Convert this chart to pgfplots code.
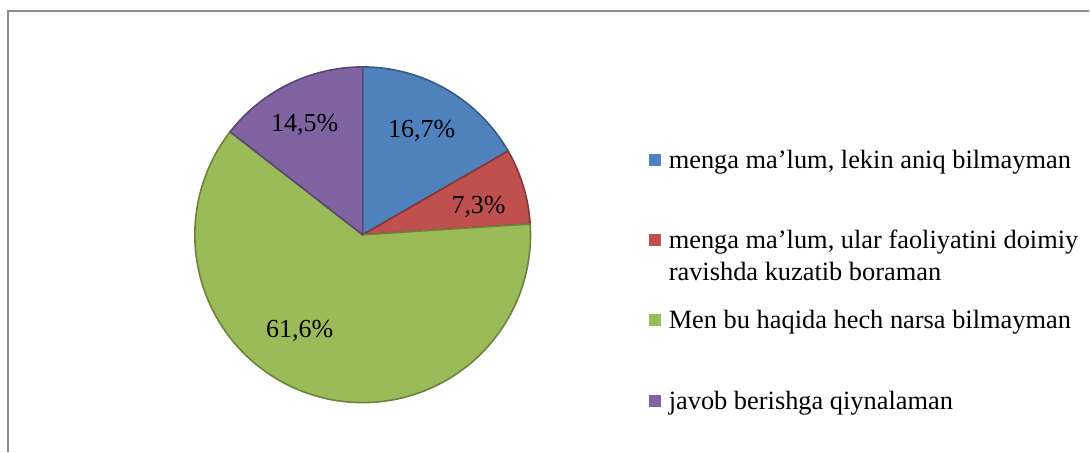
\documentclass[border=0pt]{standalone}
\usepackage{pgfplots}
\pgfplotsset{compat=1.18}
\usepackage{fontspec}
\setmainfont{Liberation Serif}
\definecolor{cA}{HTML}{4F81BD}
\definecolor{cB}{HTML}{C0504D}
\definecolor{cC}{HTML}{9BBB59}
\definecolor{cD}{HTML}{8064A2}
\begin{document}
\begin{tikzpicture}
% values (percent)
\def\vA{16.7}\def\vB{7.3}\def\vC{61.6}\def\vD{14.5}
\pgfmathsetmacro\tot{\vA+\vB+\vC+\vD}
\pgfmathsetmacro\aA{90}
\pgfmathsetmacro\aB{\aA-\vA/\tot*360}
\pgfmathsetmacro\aC{\aB-\vB/\tot*360}
\pgfmathsetmacro\aD{\aC-\vC/\tot*360}
\pgfmathsetmacro\aE{\aD-\vD/\tot*360}
\begin{axis}[x=0.5pt,y=0.5pt,xmin=0,xmax=1090,ymin=0,ymax=452,
  hide axis, scale only axis, clip=false, anchor=origin, at={(0,0)}]
\path (axis cs:0,0) rectangle (axis cs:1090,452);
% frame
\draw[color=black!45, line width=1pt] (axis cs:8.5,0) -- (axis cs:8.5,440.5) -- (axis cs:1090,440.5);
% sectors
\addplot[fill=cA, draw=cA!70!black, line width=0.8pt, domain=\aB:\aA, samples=60, variable=\t]
  ({363+168*cos(\t)},{217+168*sin(\t)}) -- (axis cs:363,217) -- cycle;
\addplot[fill=cB, draw=cB!70!black, line width=0.8pt, domain=\aC:\aB, samples=30, variable=\t]
  ({363+168*cos(\t)},{217+168*sin(\t)}) -- (axis cs:363,217) -- cycle;
\addplot[fill=cC, draw=cC!70!black, line width=0.8pt, domain=\aD:\aC, samples=150, variable=\t]
  ({363+168*cos(\t)},{217+168*sin(\t)}) -- (axis cs:363,217) -- cycle;
\addplot[fill=cD, draw=cD!70!black, line width=0.8pt, domain=\aE:\aD, samples=50, variable=\t]
  ({363+168*cos(\t)},{217+168*sin(\t)}) -- (axis cs:363,217) -- cycle;
% data labels
\node[font=\fontsize{13}{15}\selectfont, inner sep=0pt] at (axis cs:422,321) {16,7\%};
\node[font=\fontsize{13}{15}\selectfont, inner sep=0pt] at (axis cs:479,245) {7,3\%};
\node[font=\fontsize{13}{15}\selectfont, inner sep=0pt] at (axis cs:305,327) {14,5\%};
\node[font=\fontsize{13}{15}\selectfont, inner sep=0pt] at (axis cs:300,121) {61,6\%};
% legend
\fill[cA] (axis cs:650,286) rectangle (axis cs:662,298);
\fill[cB] (axis cs:650,206) rectangle (axis cs:662,218);
\fill[cC] (axis cs:650,126) rectangle (axis cs:662,138);
\fill[cD] (axis cs:650,45) rectangle (axis cs:662,57);
\begin{scope}[every node/.style={font=\fontsize{13.2}{16}\selectfont, inner sep=0pt, anchor=base west, align=left}]
\node at (axis cs:669,283) {menga ma’lum, lekin aniq bilmayman};
\node at (axis cs:669,203) {menga ma’lum, ular faoliyatini doimiy};
\node at (axis cs:669,171) {ravishda kuzatib boraman};
\node at (axis cs:669,123) {Men bu haqida hech narsa bilmayman};
\node at (axis cs:669,42) {javob berishga qiynalaman};
\end{scope}
\end{axis}
\end{tikzpicture}
\end{document}
